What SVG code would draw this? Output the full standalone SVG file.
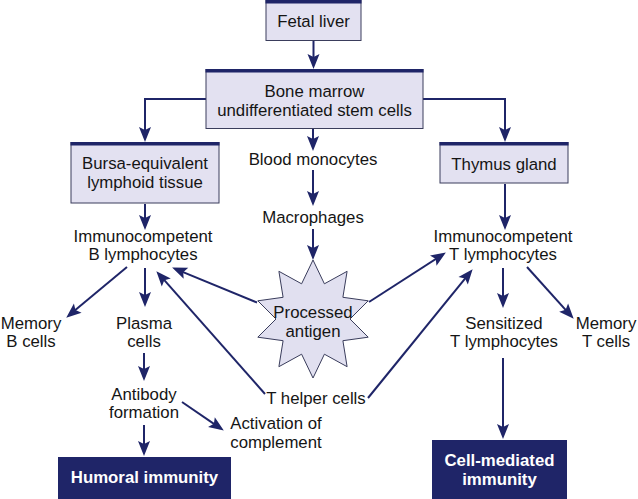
<svg xmlns="http://www.w3.org/2000/svg" width="638" height="499" viewBox="0 0 638 499">
<style>
.box{fill:#e3e1f1;stroke:#3a3d5c;stroke-width:1}
.bar{fill:#1f2568}
.dark{fill:#1f2568}
.t{font-family:"Liberation Sans",Arial,sans-serif;font-size:16.8px;fill:#151515;text-anchor:middle}
.w{font-family:"Liberation Sans",Arial,sans-serif;font-size:16.8px;font-weight:bold;fill:#ffffff;text-anchor:middle}
.c{fill:none;stroke:#1f2568;stroke-width:2}
</style>
<defs>
<marker id="ah" markerUnits="userSpaceOnUse" markerWidth="16" markerHeight="13" refX="11" refY="6" orient="auto" overflow="visible">
<path d="M0,0 L15,6 L0,12 L3,6 Z" fill="#1f2568"/>
</marker>
</defs>
<rect width="638" height="499" fill="#ffffff"/>

<g id="connectors">
<line class="c" x1="313.5" y1="41" x2="313.5" y2="65" marker-end="url(#ah)"/>
<polyline class="c" points="206,99 145,99 145,138" marker-end="url(#ah)"/>
<polyline class="c" points="423,99 505,99 505,138" marker-end="url(#ah)"/>
<line class="c" x1="313" y1="129" x2="313" y2="147" marker-end="url(#ah)"/>
<line class="c" x1="313" y1="170" x2="313" y2="202" marker-end="url(#ah)"/>
<line class="c" x1="313" y1="229" x2="313" y2="256" marker-end="url(#ah)"/>
<line class="c" x1="145" y1="204" x2="145" y2="226" marker-end="url(#ah)"/>
<line class="c" x1="505" y1="184" x2="505" y2="226" marker-end="url(#ah)"/>
<line class="c" x1="127" y1="267" x2="69.3" y2="315.1" marker-end="url(#ah)"/>
<line class="c" x1="145" y1="268" x2="145" y2="303" marker-end="url(#ah)"/>
<line class="c" x1="144" y1="353" x2="144" y2="377" marker-end="url(#ah)"/>
<line class="c" x1="144" y1="425" x2="144" y2="452" marker-end="url(#ah)"/>
<line class="c" x1="182" y1="402" x2="220.5" y2="428.3" marker-end="url(#ah)"/>
<line class="c" x1="257" y1="302.5" x2="175.8" y2="269.1" marker-end="url(#ah)"/>
<line class="c" x1="265" y1="394" x2="159" y2="274.2" marker-end="url(#ah)"/>
<line class="c" x1="369" y1="302" x2="442.5" y2="254.7" marker-end="url(#ah)"/>
<line class="c" x1="368" y1="398" x2="470.1" y2="272.3" marker-end="url(#ah)"/>
<line class="c" x1="503" y1="268" x2="503" y2="304" marker-end="url(#ah)"/>
<line class="c" x1="527" y1="267" x2="571" y2="315.8" marker-end="url(#ah)"/>
<line class="c" x1="503" y1="358" x2="503" y2="435" marker-end="url(#ah)"/>
</g>

<g id="fetal-liver">
<rect class="box" x="266" y="0.5" width="95" height="40"/>
<rect class="bar" x="265.5" y="0" width="96" height="3.5"/>
<text class="t" x="313.5" y="27">Fetal liver</text>
</g>

<g id="bone-marrow">
<rect class="box" x="206" y="69.5" width="217" height="59"/>
<rect class="bar" x="205.5" y="69" width="218" height="3.5"/>
<text class="t" x="314.5" y="97">Bone marrow</text>
<text class="t" x="314.5" y="116">undifferentiated stem cells</text>
</g>

<g id="bursa">
<rect class="box" x="71" y="142.5" width="148" height="60.5"/>
<rect class="bar" x="70.5" y="142" width="149" height="3.5"/>
<text class="t" x="145" y="169">Bursa-equivalent</text>
<text class="t" x="145" y="188">lymphoid tissue</text>
</g>

<g id="thymus">
<rect class="box" x="440" y="142.5" width="128" height="40.5"/>
<rect class="bar" x="439.5" y="142" width="129" height="3.5"/>
<text class="t" x="504" y="170">Thymus gland</text>
</g>

<g id="blood-monocytes"><text class="t" x="313" y="165">Blood monocytes</text></g>
<g id="macrophages"><text class="t" x="313" y="223">Macrophages</text></g>

<g id="b-lymphocytes">
<text class="t" x="143" y="242">Immunocompetent</text>
<text class="t" x="143" y="260">B lymphocytes</text>
</g>

<g id="t-lymphocytes">
<text class="t" x="503" y="242">Immunocompetent</text>
<text class="t" x="503" y="260">T lymphocytes</text>
</g>

<g id="processed-antigen">
<polygon fill="#e1e0f0" stroke="#3a3d5c" stroke-width="1" points="313,260 324.4,283.8 347.1,271.3 342.9,297.3 368.2,300.8 350,319 368.2,337.2 342.9,340.7 347.1,366.7 324.4,354.2 313,378 301.6,354.2 278.9,366.7 283.1,340.7 257.8,337.2 276,319 257.8,300.8 283.1,297.3 278.9,271.3 301.6,283.8"/>
<text class="t" x="313" y="318">Processed</text>
<text class="t" x="313" y="337">antigen</text>
</g>

<g id="memory-b">
<text class="t" x="31" y="329">Memory</text>
<text class="t" x="31" y="347">B cells</text>
</g>

<g id="plasma-cells">
<text class="t" x="144" y="329">Plasma</text>
<text class="t" x="144" y="347">cells</text>
</g>

<g id="antibody-formation">
<text class="t" x="144" y="400">Antibody</text>
<text class="t" x="144" y="418">formation</text>
</g>

<g id="activation-complement">
<text class="t" x="276" y="429">Activation of</text>
<text class="t" x="276" y="448">complement</text>
</g>

<g id="t-helper">
<text class="t" x="316" y="404">T helper cells</text>
</g>

<g id="sensitized">
<text class="t" x="504" y="329">Sensitized</text>
<text class="t" x="504" y="347">T lymphocytes</text>
</g>

<g id="memory-t">
<text class="t" x="606" y="329">Memory</text>
<text class="t" x="606" y="347">T cells</text>
</g>

<g id="humoral">
<rect class="dark" x="58" y="457" width="173" height="42"/>
<text class="w" x="144.5" y="483">Humoral immunity</text>
</g>

<g id="cell-mediated">
<rect class="dark" x="432" y="440" width="135" height="59"/>
<text class="w" x="499.5" y="466">Cell-mediated</text>
<text class="w" x="499.5" y="485">immunity</text>
</g>
</svg>
